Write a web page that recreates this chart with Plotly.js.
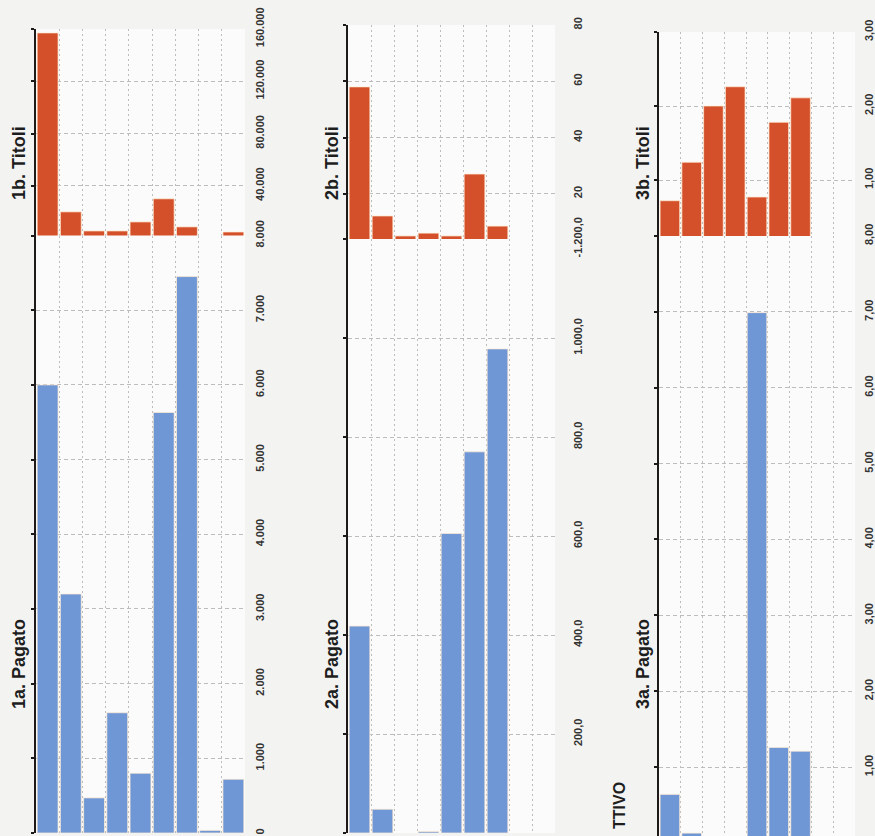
<!DOCTYPE html>
<html>
<head>
<meta charset="utf-8">
<script src="https://cdn.plot.ly/plotly-3.0.1.min.js"></script>
<style>html,body{margin:0;padding:0;background:#f3f3f2;}#chart{width:875px;height:836px;}</style>
</head>
<body>
<div id="chart"></div>
<script>
// ---- data ----
const categories = [1, 2, 3, 4, 5, 6, 7, 8, 9];

const titoli1 = [157000, 20000, 5400, 5400, 12300, 30000, 8500, null, 4600];
const pagato1 = [6000, 3200, 470, 1610, 800, 5630, 7450, 35, 720];

const titoli2 = [58, 12.1, 5, 6, 5, 27, 8.5, null, null];
const pagato2 = [418, 48, null, 3, 605, 770, 978, null, null];

const titoli3 = [0.72, 1.24, 2.0, 2.26, 0.77, 1.78, 2.11, null, null];
const pagato3 = [0.64, 0.13, null, null, 6.99, 1.26, 1.21, null, null];

const titoliTicks1 = [40000, 80000, 120000, 160000];
const titoliLabels1 = ['40.000', '80.000', '120.000', '160.000'];
const pagatoTicks1 = [0, 1000, 2000, 3000, 4000, 5000, 6000, 7000, 8000];
const pagatoLabels1 = ['0', '1.000', '2.000', '3.000', '4.000', '5.000', '6.000', '7.000', '8.000'];

const titoliTicks2 = [20, 40, 60, 80];
const titoliLabels2 = ['20', '40', '60', '80'];
const pagatoTicks2 = [0, 200, 400, 600, 800, 1000, 1200];
const pagatoLabels2 = ['0,0', '200,0', '400,0', '600,0', '800,0', '1.000,0', '-1.200,0'];

const titoliTicks3 = [1, 2, 3];
const titoliLabels3 = ['1,00', '2,00', '3,00'];
const pagatoTicks3 = [1, 2, 3, 4, 5, 6, 7, 8];
const pagatoLabels3 = ['1,00', '2,00', '3,00', '4,00', '5,00', '6,00', '7,00', '8,00'];

const titlesTop = ['1b. Titoli', '2b. Titoli', '3b. Titoli'];
const titlesBottom = ['1a. Pagato', '2a. Pagato', '3a. Pagato'];
const extraLabel = 'TTIVO';

// ---- layout geometry (pixels) ----
const W = 875, H = 836;
const panels = [
  {x: [36, 245], top: [29, 238], bot: [235.5, 833], topRange: [0, 160000], botRange: [0, 8000],
   t: titoli1, p: pagato1, tt: titoliTicks1, tl: titoliLabels1, pt: pagatoTicks1, pl: pagatoLabels1,
   titleX: 19, standoff: 7},
  {x: [348, 555], top: [25, 250], bot: [239, 833], topRange: [0, 80], botRange: [0, 1200],
   t: titoli2, p: pagato2, tt: titoliTicks2, tl: titoliLabels2, pt: pagatoTicks2, pl: pagatoLabels2,
   titleX: 332, standoff: 15},
  {x: [659, 855], top: [32, 254], bot: [236, 836], topRange: [0, 3], botRange: [0.092, 8],
   t: titoli3, p: pagato3, tt: titoliTicks3, tl: titoliLabels3, pt: pagatoTicks3, pl: pagatoLabels3,
   titleX: 643, standoff: 6}
];

const RED = '#d4502b', BLUE = '#6f97d6';
const FONT = '"Liberation Sans Narrow", "Arial Narrow", "Liberation Sans", Arial, sans-serif';
const TFONT = '"Liberation Sans", Arial, sans-serif';
const GRID = '#bdbdbd';
const px = v => v / W;
const py = v => 1 - v / H;

const gridVals = categories.map(c => c - 0.5).concat([categories[categories.length - 1] + 0.5]);

const traces = [];
const layout = {
  width: W, height: H,
  margin: {l: 0, r: 0, t: 0, b: 0},
  paper_bgcolor: '#f3f3f2',
  plot_bgcolor: '#fbfbfb',
  showlegend: false,
  bargap: 0.1,
  annotations: [],
  font: {family: FONT, color: '#222'}
};

panels.forEach((pn, i) => {
  const nTop = 2 * i + 1, nBot = 2 * i + 2;
  const series = [
    {n: nTop, y: pn.t, color: RED, dom: pn.top, range: pn.topRange, tv: pn.tt, tl: pn.tl},
    {n: nBot, y: pn.p, color: BLUE, dom: pn.bot, range: pn.botRange, tv: pn.pt, tl: pn.pl}
  ];
  series.forEach(s => {
    const xa = 'x' + s.n, ya = 'y' + s.n, yl = 'y' + (s.n + 6);
    traces.push({
      type: 'bar', x: categories, y: s.y, xaxis: xa, yaxis: ya,
      marker: {color: s.color, line: {color: 'rgba(255,235,210,0.9)', width: 0.8}},
      hoverinfo: 'y'
    });
    traces.push({type: 'scatter', x: [categories[0]], y: [s.range[0]], xaxis: xa, yaxis: yl,
      mode: 'markers', marker: {opacity: 0}, hoverinfo: 'skip'});
    layout['xaxis' + s.n] = {
      domain: [px(pn.x[0]), px(pn.x[1])], anchor: ya,
      range: [0.5, categories.length + 0.5], fixedrange: true,
      tickmode: 'array', tickvals: gridVals, showticklabels: false, ticks: '',
      showgrid: true, gridcolor: GRID, griddash: '2px,3px', gridwidth: 1,
      zeroline: false, showline: false
    };
    layout['yaxis' + s.n] = {
      domain: [py(s.dom[1]), py(s.dom[0])], anchor: xa, side: 'right',
      range: s.range, fixedrange: true,
      tickmode: 'array', tickvals: s.tv, ticktext: s.tl, tickangle: -90,
      tickfont: {family: FONT, size: 11, weight: 'bold', color: '#333'},
      ticks: '', ticklabelstandoff: pn.standoff,
      showgrid: true, gridcolor: GRID, griddash: '4px,3px', gridwidth: 1,
      zeroline: false, showline: false
    };
    layout['yaxis' + (s.n + 6)] = {
      overlaying: ya, anchor: xa, side: 'left', range: s.range, fixedrange: true,
      tickmode: 'array', tickvals: s.tv, showticklabels: false,
      ticks: 'outside', ticklen: 3, tickwidth: 2, tickcolor: '#1e1a1a',
      showline: true, linecolor: '#1e1a1a', linewidth: 2,
      showgrid: false, zeroline: false
    };
  });
  layout.annotations.push({
    text: '<b>' + titlesTop[i] + '</b>', textangle: -90, showarrow: false,
    xref: 'paper', yref: 'paper', x: px(pn.titleX), y: py(163), xanchor: 'center', yanchor: 'middle',
    font: {family: TFONT, size: 18, color: '#1e1e1e'}
  });
  layout.annotations.push({
    text: '<b>' + titlesBottom[i] + '</b>', textangle: -90, showarrow: false,
    xref: 'paper', yref: 'paper', x: px(pn.titleX), y: py(664), xanchor: 'center', yanchor: 'middle',
    font: {family: TFONT, size: 18, color: '#1e1e1e'}
  });
});

layout.annotations.push({
  text: '<b>' + extraLabel + '</b>', textangle: -90, showarrow: false,
  xref: 'paper', yref: 'paper', x: px(619), y: py(806), xanchor: 'center', yanchor: 'middle',
  font: {family: TFONT, size: 16, color: '#1e1e1e'}
});

Plotly.newPlot('chart', traces, layout, {displayModeBar: false, staticPlot: true});
</script>
</body>
</html>
